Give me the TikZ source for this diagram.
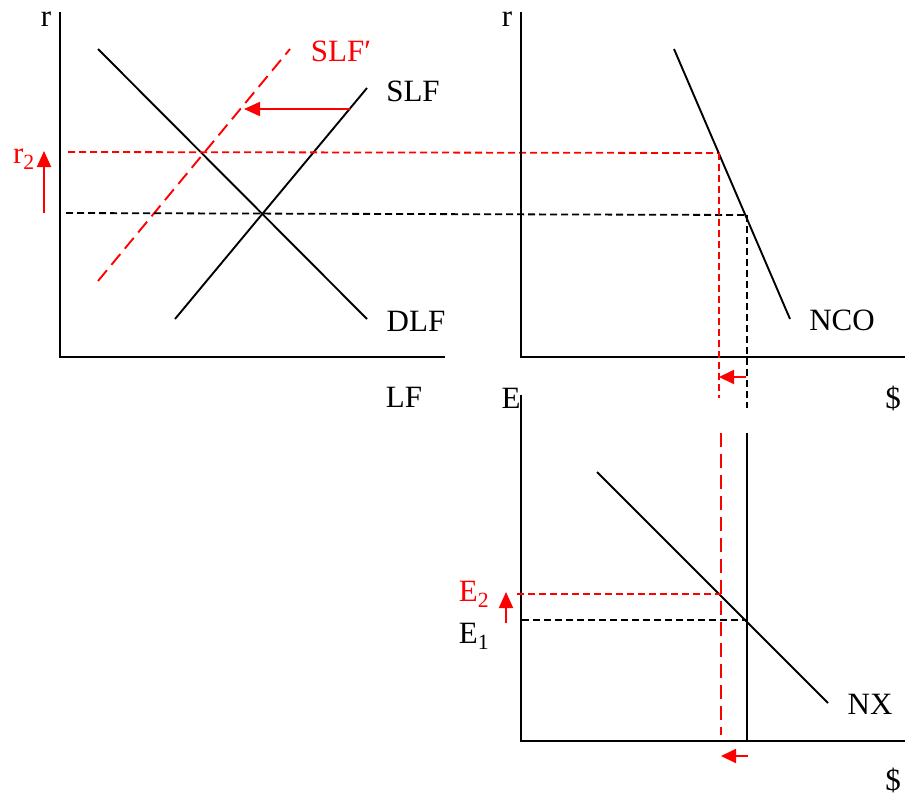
\documentclass[tikz,border=0pt]{standalone}
\usepackage{fontspec}
\setmainfont{Liberation Serif}
\usetikzlibrary{arrows.meta}
\begin{document}
\begin{tikzpicture}[x=1pt,y=-1pt,
  axis/.style={line width=2.6pt},
  curve/.style={line width=1.9pt},
  bdash/.style={line width=1.8pt,dash pattern=on 7pt off 4pt},
  rdash/.style={red,line width=1.8pt,dash pattern=on 7pt off 4pt},
  rldash/.style={red,line width=1.9pt,dash pattern=on 14pt off 7pt},
  shiftarrow/.style={red,line width=1.9pt,-{Triangle[length=16pt,width=14pt]}},
  lbl/.style={font=\fontsize{31}{36}\selectfont,inner sep=0pt},
  rlbl/.style={lbl,text=red},
]
\useasboundingbox (0,0) rectangle (909,796);

% ---------- panel 1: loanable funds ----------
\coordinate (o1) at (60,357);
\coordinate (y1top) at (60,12);
\coordinate (x1end) at (445,357);
\draw[axis] (y1top) -- (o1) -- (x1end);
\node[lbl] (r1) at (46,19) {r};
\node[lbl] (lf) at (404,397) {LF};

\coordinate (slfA) at (175,319);
\coordinate (slfB) at (367,88);
\coordinate (dlfA) at (98,49);
\coordinate (dlfB) at (367,319);
\draw[curve] (slfA) -- (slfB);
\draw[curve] (dlfA) -- (dlfB);
\node[lbl] (slf) at (413,91) {SLF};
\node[lbl] (dlf) at (416,321) {DLF};

\coordinate (slfpA) at (98,281);
\coordinate (slfpB) at (290,49);
\draw[rldash] (slfpA) -- (slfpB);
\node[rlbl] (slfp) at (341,51) {SLF′};

\coordinate (shA) at (350,109);
\coordinate (shB) at (244,109);
\draw[shiftarrow] (shA) -- (shB);

% r levels
\coordinate (r2L) at (68,152);
\coordinate (r2R) at (719,153);
\coordinate (r1L) at (66,213);
\coordinate (r1R) at (747,215);
\draw[rdash] (r2L) -- (r2R);
\draw[bdash] (r1L) -- (r1R);
\node[rlbl] (r2) at (24,159) {r\textsubscript{2}};
\coordinate (rupA) at (44,213);
\coordinate (rupB) at (44,151);
\draw[shiftarrow] (rupA) -- (rupB);

% ---------- panel 2: NCO ----------
\coordinate (o2) at (521,357);
\coordinate (y2top) at (521,12);
\coordinate (x2end) at (905,357);
\draw[axis] (y2top) -- (o2) -- (x2end);
\node[lbl] (r2axis) at (507,19) {r};
\node[lbl] (dol1) at (893,398) {\$};
\node[lbl] (Eax) at (511,398) {E};

\coordinate (ncoA) at (674,49);
\coordinate (ncoB) at (790,319);
\draw[curve] (ncoA) -- (ncoB);
\node[lbl] (nco) at (842,320) {NCO};

\coordinate (rvB) at (719,398);
\coordinate (bvB) at (747,408);
\draw[rdash] (r2R) -- (rvB);
\draw[bdash] (r1R) -- (bvB);
\coordinate (ncoshA) at (746,377);
\coordinate (ncoshB) at (719,377);
\draw[shiftarrow,-{Triangle[length=15pt,width=14pt]}] (ncoshA) -- (ncoshB);

% ---------- panel 3: NX ----------
\coordinate (o3) at (521,741);
\coordinate (y3top) at (521,395);
\coordinate (x3end) at (905,741);
\draw[axis] (y3top) -- (o3) -- (x3end);
\node[lbl] (dol2) at (893,780) {\$};

\coordinate (nxA) at (597,472);
\coordinate (nxB) at (828,703);
\draw[curve] (nxA) -- (nxB);
\node[lbl] (nx) at (870,704) {NX};

\coordinate (svT) at (747,433);
\coordinate (svB) at (747,741);
\draw[axis] (svT) -- (svB);
\coordinate (rv3T) at (721,433);
\coordinate (rv3B) at (721,735);
\draw[rldash] (rv3T) -- (rv3B);

\coordinate (e2L) at (517,594);
\coordinate (e2R) at (721,594);
\coordinate (e1L) at (522,620);
\coordinate (e1R) at (747,620);
\draw[rdash] (e2L) -- (e2R);
\draw[bdash] (e1L) -- (e1R);
\node[rlbl] (E2) at (474,594) {E\textsubscript{2}};
\node[lbl] (E1) at (474,636) {E\textsubscript{1}};
\coordinate (eupA) at (506,623);
\coordinate (eupB) at (506,592);
\draw[shiftarrow] (eupA) -- (eupB);

\coordinate (nxshA) at (748,756);
\coordinate (nxshB) at (721,756);
\draw[shiftarrow,-{Triangle[length=15pt,width=14pt]}] (nxshA) -- (nxshB);
\end{tikzpicture}
\end{document}
